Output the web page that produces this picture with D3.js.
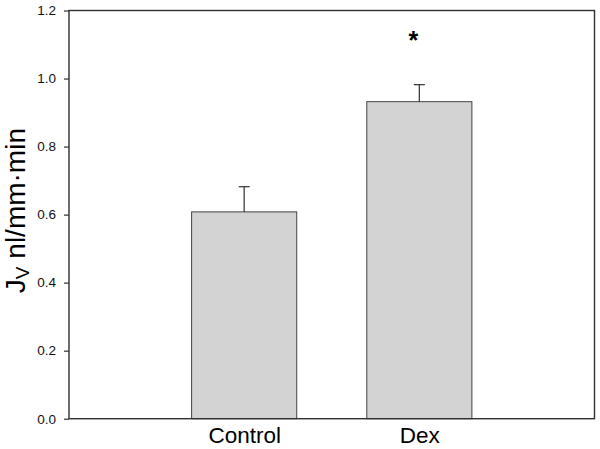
<!DOCTYPE html>
<html><head><meta charset="utf-8">
<script src="https://cdn.jsdelivr.net/npm/d3@7"></script>
<style>body{margin:0;background:#fff}svg{display:block}text{font-family:"Liberation Sans",Arial,sans-serif}</style>
</head><body><svg id="c" width="600" height="449"></svg>
<script>
const categories = ["Control", "Dex"];
const values = [0.608, 0.932];
const errors = [0.074, 0.050];
const significance = ["", "*"];
const yTicks = [0.0, 0.2, 0.4, 0.6, 0.8, 1.0, 1.2];

const svg = d3.select("#c");
const L = 69, R = 594.5, T = 10.5, B = 418.7;
const x = d3.scalePoint().domain(categories).range([L, R]).padding(1);
const y = d3.scaleLinear().domain([0, 1.2]).range([B, T]);
const bw = x.step() * 0.6;
const col = "#303030";

// bars
svg.selectAll("rect.bar").data(categories).enter().append("rect")
  .attr("x", d => x(d) - bw/2).attr("width", bw)
  .attr("y", (d,i) => y(values[i])).attr("height", (d,i) => B - y(values[i]))
  .attr("fill", "#d3d3d3").attr("stroke", "#444").attr("stroke-width", 1);

// error bars
categories.forEach((c,i) => {
  const cx = x(c);
  svg.append("line").attr("x1", cx).attr("x2", cx)
    .attr("y1", y(values[i])).attr("y2", y(values[i]+errors[i]))
    .attr("stroke", col).attr("stroke-width", 1.2);
  svg.append("line").attr("x1", cx-5.5).attr("x2", cx+5.5)
    .attr("y1", y(values[i]+errors[i])).attr("y2", y(values[i]+errors[i]))
    .attr("stroke", col).attr("stroke-width", 1.2);
  if (significance[i]) {
    svg.append("text").attr("x", cx - 6).attr("y", y(values[i]+errors[i]) - 36)
      .attr("text-anchor", "middle").attr("font-size", 25).attr("font-weight", "bold")
      .text(significance[i]);
  }
});

// frame
svg.append("rect").attr("x", L).attr("y", T).attr("width", R-L).attr("height", B-T)
  .attr("fill", "none").attr("stroke", col).attr("stroke-width", 1.4);

// y axis
const ya = d3.axisLeft(y).tickValues(yTicks).tickFormat(d3.format(".1f")).tickSize(5).tickPadding(8);
const g = svg.append("g").attr("transform", `translate(${L},0)`).call(ya);
g.select(".domain").remove();
g.selectAll("line").attr("stroke", col).attr("stroke-width", 1.2);
g.selectAll("text").attr("font-size", 13.5).attr("fill", "#111").attr("font-family", "Liberation Sans, Arial, sans-serif");

// x labels
const xa = d3.axisBottom(x).tickSize(0).tickPadding(8);
const gx = svg.append("g").attr("transform", `translate(0,${B})`).call(xa);
gx.select(".domain").remove();
gx.selectAll("text").attr("font-size", 22.5).attr("fill", "#000").attr("font-family", "Liberation Sans, Arial, sans-serif");

// y label
const yl = svg.append("text").attr("transform", `translate(25,${(T+B)/2 - 4}) rotate(-90)`)
  .attr("text-anchor", "middle").attr("font-size", 28).attr("fill", "#000");
yl.append("tspan").text("J");
yl.append("tspan").attr("font-size", 19).attr("dy", 4).text("V");
yl.append("tspan").attr("dy", -4).text(" nl/mm\u00B7min");
</script></body></html>
